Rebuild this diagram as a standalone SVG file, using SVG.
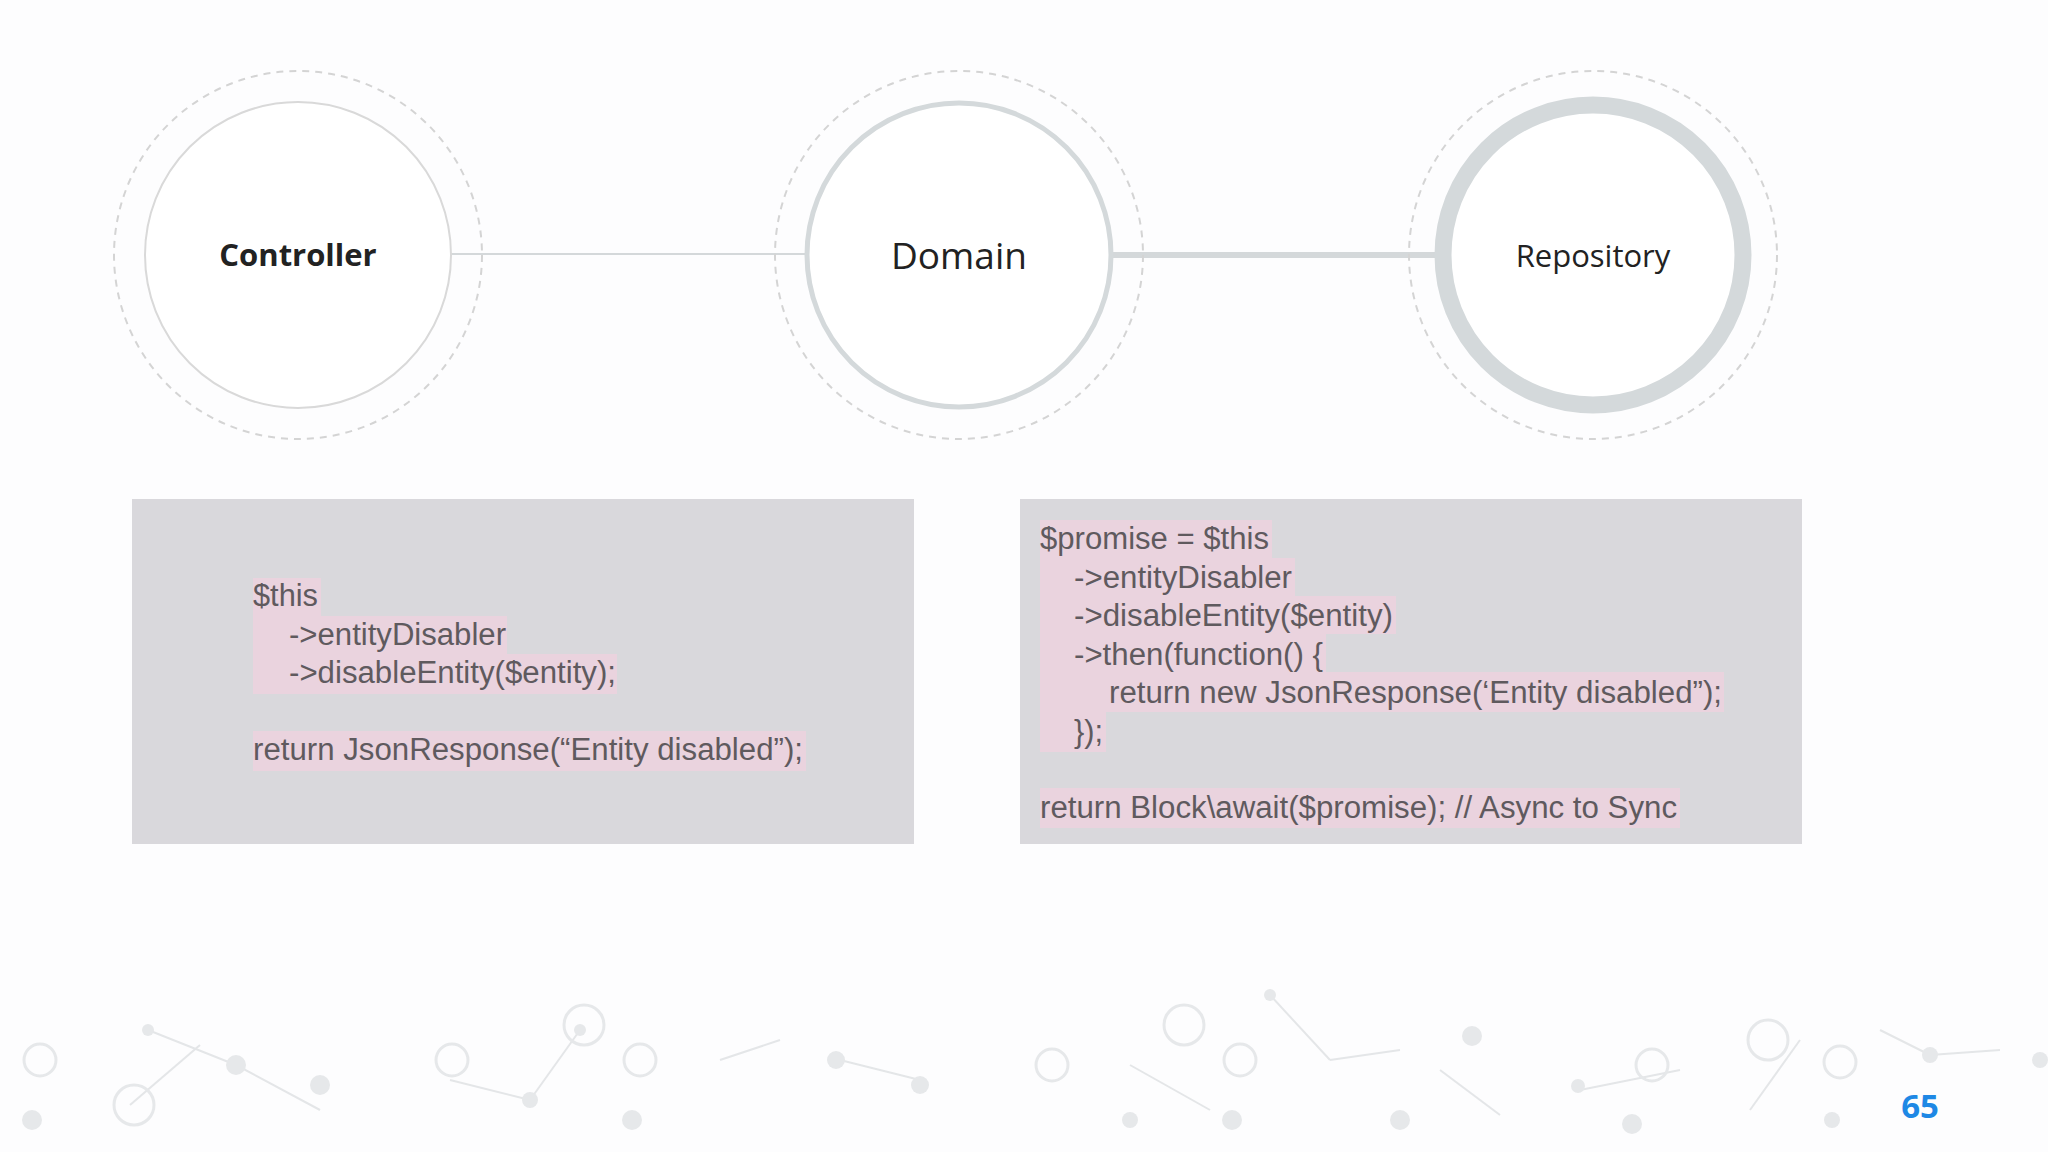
<svg xmlns="http://www.w3.org/2000/svg" width="2048" height="1152" viewBox="0 0 2048 1152">
<style>
.dash{fill:none;stroke:#d4d4d4;stroke-width:2;stroke-dasharray:7 6}
.lbl{font-family:"Open Sans","Noto Sans",sans-serif;fill:#222;text-anchor:middle}
.code{font-family:"Liberation Sans",Arial,sans-serif;font-size:31px;fill:#5f5a5e}
.hl{fill:#ead3de}
.net line{stroke:#e4e6e8;stroke-width:2}
.net circle{fill:#e6e8ea}
.net .ring{fill:none;stroke:#e6e8ea;stroke-width:3}
</style>
<rect width="2048" height="1152" fill="#fdfdfe"/>
<g class="net">
<line x1="148" y1="1030" x2="236" y2="1065"/><line x1="236" y1="1065" x2="320" y2="1110"/><line x1="130" y1="1105" x2="200" y2="1045"/>
<line x1="450" y1="1080" x2="530" y2="1100"/><line x1="580" y1="1030" x2="530" y2="1100"/><line x1="720" y1="1060" x2="780" y2="1040"/>
<line x1="840" y1="1060" x2="920" y2="1080"/><line x1="1130" y1="1065" x2="1210" y2="1110"/><line x1="1270" y1="995" x2="1330" y2="1060"/>
<line x1="1330" y1="1060" x2="1400" y2="1050"/><line x1="1440" y1="1070" x2="1500" y2="1115"/><line x1="1580" y1="1090" x2="1680" y2="1070"/>
<line x1="1750" y1="1110" x2="1800" y2="1040"/><line x1="1880" y1="1030" x2="1930" y2="1055"/><line x1="1930" y1="1055" x2="2000" y2="1050"/>
<circle cx="148" cy="1030" r="6"/><circle cx="236" cy="1065" r="10"/><circle cx="32" cy="1120" r="10"/><circle cx="320" cy="1085" r="10"/>
<circle cx="530" cy="1100" r="8"/><circle cx="580" cy="1030" r="6"/><circle cx="632" cy="1120" r="10"/><circle cx="836" cy="1060" r="9"/>
<circle cx="920" cy="1085" r="9"/><circle cx="1130" cy="1120" r="8"/><circle cx="1232" cy="1120" r="10"/><circle cx="1270" cy="995" r="6"/>
<circle cx="1400" cy="1120" r="10"/><circle cx="1472" cy="1036" r="10"/><circle cx="1578" cy="1086" r="7"/><circle cx="1632" cy="1124" r="10"/>
<circle cx="1832" cy="1120" r="8"/><circle cx="1930" cy="1055" r="8"/><circle cx="2040" cy="1060" r="8"/>
<circle class="ring" cx="40" cy="1060" r="16"/><circle class="ring" cx="134" cy="1105" r="20"/><circle class="ring" cx="452" cy="1060" r="16"/>
<circle class="ring" cx="584" cy="1025" r="20"/><circle class="ring" cx="640" cy="1060" r="16"/><circle class="ring" cx="1052" cy="1065" r="16"/>
<circle class="ring" cx="1184" cy="1025" r="20"/><circle class="ring" cx="1240" cy="1060" r="16"/><circle class="ring" cx="1652" cy="1065" r="16"/>
<circle class="ring" cx="1768" cy="1040" r="20"/><circle class="ring" cx="1840" cy="1062" r="16"/>
</g>
<g id="connectors">
<line x1="451" y1="254" x2="806" y2="254" stroke="#d4d8da" stroke-width="2"/>
<line x1="1111" y1="255" x2="1437" y2="255" stroke="#d4d8da" stroke-width="6"/>
</g>
<g id="controller">
<circle class="dash" cx="298" cy="255" r="184"/>
<circle cx="298" cy="255" r="153" fill="#fff" stroke="#d9d9d9" stroke-width="2"/>
<text class="lbl" x="298" y="266" font-size="31" font-weight="bold">Controller</text>
</g>
<g id="domain">
<circle class="dash" cx="959" cy="255" r="184"/>
<circle cx="959" cy="255" r="152" fill="#fff" stroke="#d4d9db" stroke-width="5"/>
<text class="lbl" x="959" y="269" font-size="37">Domain</text>
</g>
<g id="repository">
<circle class="dash" cx="1593" cy="255" r="184"/>
<circle cx="1593" cy="255" r="150" fill="#fff" stroke="#d4d9db" stroke-width="17"/>
<text class="lbl" x="1593" y="267" font-size="31">Repository</text>
</g>
<g id="code-left">
<rect x="132" y="499" width="782" height="345" fill="#d9d8dc"/>
<rect class="hl" x="253" y="578" width="68" height="38"/>
<rect class="hl" x="253" y="616" width="254" height="38"/>
<rect class="hl" x="253" y="654" width="364" height="40"/>
<rect class="hl" x="253" y="731" width="553" height="40"/>
<text class="code" x="253" y="606" textLength="65" lengthAdjust="spacingAndGlyphs">$this</text>
<text class="code" x="289" y="645" textLength="217" lengthAdjust="spacingAndGlyphs">-&gt;entityDisabler</text>
<text class="code" x="289" y="683" textLength="327" lengthAdjust="spacingAndGlyphs">-&gt;disableEntity($entity);</text>
<text class="code" x="253" y="760" textLength="550" lengthAdjust="spacingAndGlyphs">return JsonResponse(“Entity disabled”);</text>
</g>
<g id="code-right">
<rect x="1020" y="499" width="782" height="345" fill="#d9d8dc"/>
<rect class="hl" x="1040" y="520" width="232" height="38"/>
<rect class="hl" x="1040" y="558" width="255" height="38"/>
<rect class="hl" x="1040" y="596" width="356" height="38"/>
<rect class="hl" x="1040" y="634" width="286" height="38"/>
<rect class="hl" x="1040" y="672" width="684" height="40"/>
<rect class="hl" x="1040" y="712" width="66" height="40"/>
<rect class="hl" x="1040" y="788" width="640" height="40"/>
<text class="code" x="1040" y="549" textLength="229" lengthAdjust="spacingAndGlyphs">$promise = $this</text>
<text class="code" x="1074" y="588" textLength="218" lengthAdjust="spacingAndGlyphs">-&gt;entityDisabler</text>
<text class="code" x="1074" y="626" textLength="319" lengthAdjust="spacingAndGlyphs">-&gt;disableEntity($entity)</text>
<text class="code" x="1074" y="665" textLength="249" lengthAdjust="spacingAndGlyphs">-&gt;then(function() {</text>
<text class="code" x="1109" y="703" textLength="613" lengthAdjust="spacingAndGlyphs">return new JsonResponse(‘Entity disabled”);</text>
<text class="code" x="1074" y="742" textLength="29" lengthAdjust="spacingAndGlyphs">});</text>
<text class="code" x="1040" y="818" textLength="637" lengthAdjust="spacingAndGlyphs">return Block\await($promise); // Async to Sync</text>
</g>
<text x="1920" y="1118" font-family="'Open Sans','Noto Sans',sans-serif" font-size="33" font-weight="bold" fill="#1e88e5" text-anchor="middle">65</text>
</svg>
